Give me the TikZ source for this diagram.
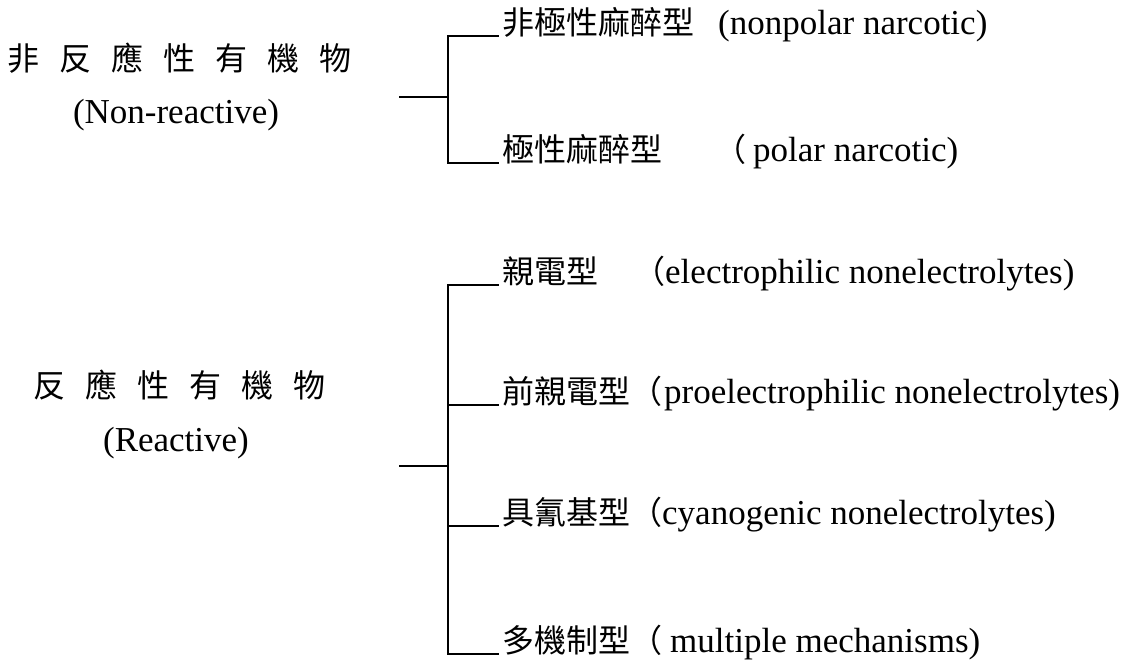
\documentclass[tikz,border=0pt]{standalone}
\usepackage{fontspec}
\setmainfont{Liberation Serif}
\newfontfamily\cjk{Noto Sans CJK TC}
\newcommand{\cjksz}{\fontsize{32}{38}\selectfont}
\newcommand{\latsz}{\fontsize{35}{41}\selectfont}
\newcommand{\gp}{\hspace{20pt}}
\tikzset{
  lbl/.style={inner sep=0pt, font=\latsz},
  br/.style={inner sep=0pt, anchor=base west, font=\latsz},
  conn/.style={line width=2.2pt, line cap=rect},
  twig/.style={conn, shorten >=4pt}
}
\begin{document}
\begin{tikzpicture}[x=1pt,y=-1pt]
\useasboundingbox (0,0) rectangle (1125,664);
% left labels
\node[lbl, anchor=base] (g1) at (180,70) {{\cjk\cjksz 非\gp 反\gp 應\gp 性\gp 有\gp 機\gp 物}};
\node[lbl, anchor=base] (g1e) at (176,123) {(Non-reactive)};
\node[lbl, anchor=base] (g2) at (180,397) {{\cjk\cjksz 反\gp 應\gp 性\gp 有\gp 機\gp 物}};
\node[lbl, anchor=base] (g2e) at (176,451) {(Reactive)};
% branch labels
\node[br] (a1) at (502,34) {{\cjk\cjksz 非極性麻醉型}\hspace{24pt}(nonpolar narcotic)};
\node[br] (a2) at (502,161) {{\cjk\cjksz 極性麻醉型\hspace{52pt}（}\hspace{7pt}polar narcotic)};
\node[br] (b1) at (502,283) {{\cjk\cjksz 親電型\hspace{35pt}（}electrophilic nonelectrolytes)};
\node[br] (b2) at (502,403) {{\cjk\cjksz 前親電型（}\hspace{2pt}proelectrophilic nonelectrolytes)};
\node[br] (b3) at (502,524) {{\cjk\cjksz 具氰基型（}cyanogenic nonelectrolytes)};
\node[br] (b4) at (502,652) {{\cjk\cjksz 多機制型（}\hspace{8pt}multiple mechanisms)};
% top bracket
\coordinate (s1) at (400,97);
\coordinate (j1) at (448,97);
\coordinate (t1) at (448,36);
\coordinate (t2) at (448,163);
\draw[conn] (s1) -- (j1);
\draw[conn] (t1) -- (t2);
\draw[twig] (t1) -- (t1 -| a1.west);
\draw[twig] (t2) -- (t2 -| a2.west);
% bottom bracket
\coordinate (s2) at (400,466);
\coordinate (j2) at (448,466);
\coordinate (u1) at (448,285);
\coordinate (u2) at (448,405);
\coordinate (u3) at (448,526);
\coordinate (u4) at (448,654);
\draw[conn] (s2) -- (j2);
\draw[conn] (u1) -- (u4);
\draw[twig] (u1) -- (u1 -| b1.west);
\draw[twig] (u2) -- (u2 -| b2.west);
\draw[twig] (u3) -- (u3 -| b3.west);
\draw[twig] (u4) -- (u4 -| b4.west);
\end{tikzpicture}
\end{document}
